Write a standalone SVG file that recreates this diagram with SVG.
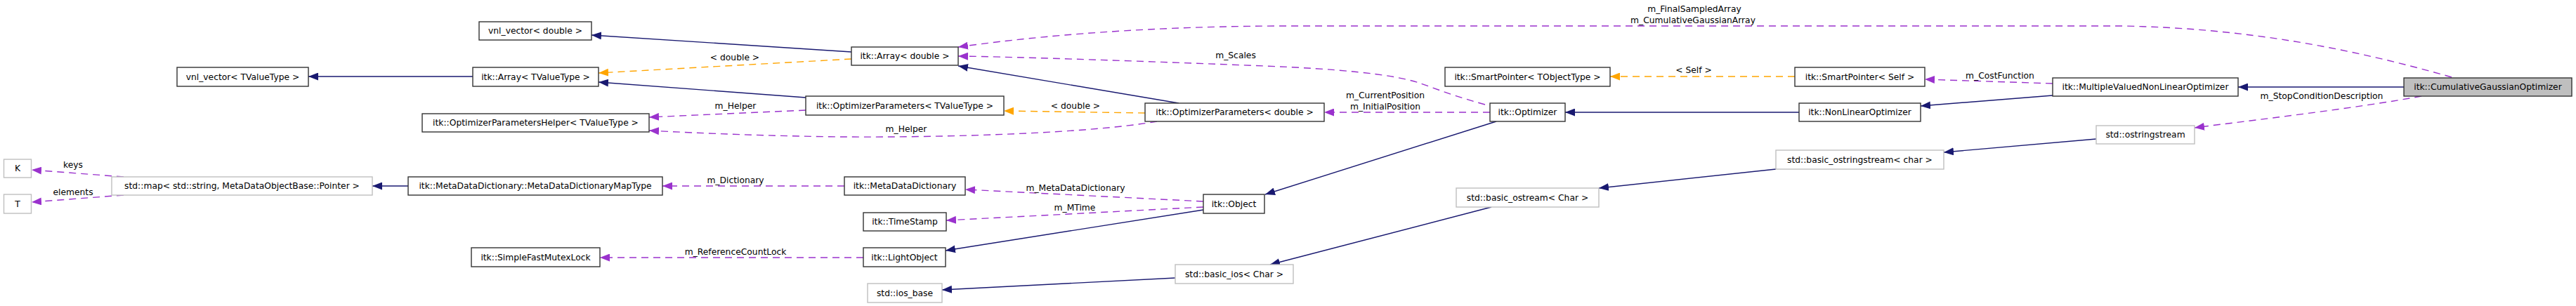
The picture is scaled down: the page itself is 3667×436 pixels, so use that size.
<svg xmlns="http://www.w3.org/2000/svg" width="3667" height="436" viewBox="0 0 3667 436">
<style>
.n rect{fill:#fff;stroke:#333;stroke-width:1.4}
.g rect{fill:#fff;stroke:#bfbfbf;stroke-width:1.4}
.c rect{fill:#bfbfbf;stroke:#333;stroke-width:1.4}
text{font-family:"DejaVu Sans","Liberation Sans",sans-serif;font-size:12.3px;fill:#000;text-anchor:middle}
.e{fill:none;stroke-width:1.4}
.s{stroke:#191970;marker-end:url(#aN)}
.d{stroke:#9a32cd;stroke-dasharray:10,7;marker-end:url(#aP)}
.o{stroke:#ffa500;stroke-dasharray:10,7;marker-end:url(#aO)}
</style>
<defs>
<marker id="aN" markerUnits="userSpaceOnUse" markerWidth="14" markerHeight="11" refX="14" refY="5.5" orient="auto"><path d="M0,0 L14,5.5 L0,11 Z" fill="#191970"/></marker>
<marker id="aP" markerUnits="userSpaceOnUse" markerWidth="14" markerHeight="11" refX="14" refY="5.5" orient="auto"><path d="M0,0 L14,5.5 L0,11 Z" fill="#9a32cd"/></marker>
<marker id="aO" markerUnits="userSpaceOnUse" markerWidth="14" markerHeight="11" refX="14" refY="5.5" orient="auto"><path d="M0,0 L14,5.5 L0,11 Z" fill="#ffa500"/></marker>
</defs>
<rect width="3667" height="436" fill="#fff"/>
<g id="edges">
<path class="e s" d="M673,109 L439,109"/>
<path class="e s" d="M1212,74 L842,50"/>
<path class="e o" d="M1212,84 L852,104"/>
<text x="1046" y="86">&lt; double &gt;</text>
<path class="e s" d="M1147,139 L852,117"/>
<path class="e d" d="M1147,157 L924,167"/>
<text x="1047" y="155">m_Helper</text>
<path class="e d" d="M1647,173 C1550,190 1350,196 1200,195 C1100,194 1000,190 924,186"/>
<text x="1290" y="188">m_Helper</text>
<path class="e s" d="M1678,147 L1364,94"/>
<path class="e o" d="M1630,161 L1429,158"/>
<text x="1531" y="155">&lt; double &gt;</text>
<path class="e d" d="M2114,149 C2070,137 2040,125 2020,118 C1980,105 1900,98 1800,94 C1650,88 1450,81 1364,80"/>
<text x="1759" y="83">m_Scales</text>
<path class="e d" d="M2121,160 L1885,160"/>
<text x="1972" y="140">m_CurrentPosition</text>
<text x="1972" y="156">m_InitialPosition</text>
<path class="e s" d="M2561,160 L2228,160"/>
<path class="e s" d="M2922,136 L2734,151"/>
<path class="e s" d="M3422,124 L3186,124"/>
<path class="e o" d="M2555,109 L2292,109"/>
<text x="2411" y="104">&lt; Self &gt;</text>
<path class="e d" d="M2922,119 L2740,113"/>
<text x="2847" y="112">m_CostFunction</text>
<path class="e d" d="M3490,110 C3350,70 3200,40 3020,37 L1820,37 C1600,38 1450,55 1364,67"/>
<text x="2412" y="17">m_FinalSampledArray</text>
<text x="2410" y="33">m_CumulativeGaussianArray</text>
<path class="e d" d="M3447,137 C3350,155 3200,172 3124,182"/>
<text x="3305" y="141">m_StopConditionDescription</text>
<path class="e s" d="M2984,198 L2767,217"/>
<path class="e s" d="M2528,241 L2276,268"/>
<path class="e s" d="M2123,295 L1808,377"/>
<path class="e s" d="M1673,396 L1341,413"/>
<path class="e s" d="M2130,173 L1801,277"/>
<path class="e d" d="M1713,287 L1374,270"/>
<text x="1531" y="272">m_MetaDataDictionary</text>
<path class="e d" d="M1713,295 L1347,314"/>
<text x="1530" y="300">m_MTime</text>
<path class="e s" d="M1713,299 L1346,357"/>
<path class="e d" d="M1229,367 L854,367"/>
<text x="1047" y="363">m_ReferenceCountLock</text>
<path class="e d" d="M1202,265 L943,265"/>
<text x="1047" y="261">m_Dictionary</text>
<path class="e s" d="M581,265 L530,265"/>
<path class="e d" d="M176,252 L45,242"/>
<text x="104" y="239">keys</text>
<path class="e d" d="M176,278 L45,288"/>
<text x="104" y="278">elements</text>
</g>
<g id="n_vnl_tvt" class="n"><rect x="252" y="96" width="187" height="27"/><text x="345.5" y="113.8">vnl_vector&lt; TValueType &gt;</text></g>
<g id="n_vnl_double" class="n"><rect x="682" y="31" width="160" height="26"/><text x="762" y="48.3">vnl_vector&lt; double &gt;</text></g>
<g id="n_array_tvt" class="n"><rect x="673" y="96" width="179" height="27"/><text x="762.5" y="113.8">itk::Array&lt; TValueType &gt;</text></g>
<g id="n_helper" class="n"><rect x="601" y="162" width="323" height="26"/><text x="762.5" y="179.3">itk::OptimizerParametersHelper&lt; TValueType &gt;</text></g>
<g id="n_k" class="g"><rect x="5.5" y="227" width="39" height="26"/><text x="25" y="244.3">K</text></g>
<g id="n_t" class="g"><rect x="5.5" y="277" width="39" height="27"/><text x="25" y="294.8">T</text></g>
<g id="n_map" class="g"><rect x="159" y="252" width="371" height="26"/><text x="344.5" y="269.3">std::map&lt; std::string, MetaDataObjectBase::Pointer &gt;</text></g>
<g id="n_maptype" class="n"><rect x="581" y="252" width="362" height="26"/><text x="762" y="269.3">itk::MetaDataDictionary::MetaDataDictionaryMapType</text></g>
<g id="n_mutex" class="n"><rect x="671" y="353" width="183" height="27"/><text x="762.5" y="370.8">itk::SimpleFastMutexLock</text></g>
<g id="n_optparams_tvt" class="n"><rect x="1147" y="137" width="282" height="27"/><text x="1288" y="154.8">itk::OptimizerParameters&lt; TValueType &gt;</text></g>
<g id="n_array_double" class="n"><rect x="1212" y="67" width="152" height="26"/><text x="1288" y="84.3">itk::Array&lt; double &gt;</text></g>
<g id="n_mdd" class="n"><rect x="1202" y="252" width="172" height="26"/><text x="1288" y="269.3">itk::MetaDataDictionary</text></g>
<g id="n_timestamp" class="n"><rect x="1229" y="303" width="118" height="26"/><text x="1288" y="320.3">itk::TimeStamp</text></g>
<g id="n_lightobject" class="n"><rect x="1229" y="353" width="117" height="27"/><text x="1287.5" y="370.8">itk::LightObject</text></g>
<g id="n_object" class="n"><rect x="1713" y="277" width="87" height="27"/><text x="1756.5" y="294.8">itk::Object</text></g>
<g id="n_iosbase" class="g"><rect x="1235" y="404" width="106" height="27"/><text x="1288" y="421.8">std::ios_base</text></g>
<g id="n_basicios" class="g"><rect x="1673" y="377" width="168" height="27"/><text x="1757" y="394.8">std::basic_ios&lt; Char &gt;</text></g>
<g id="n_optparams_double" class="n"><rect x="1630" y="147" width="255" height="26"/><text x="1757.5" y="164.3">itk::OptimizerParameters&lt; double &gt;</text></g>
<g id="n_smartptr_tot" class="n"><rect x="2057" y="96" width="235" height="27"/><text x="2174.5" y="113.8">itk::SmartPointer&lt; TObjectType &gt;</text></g>
<g id="n_optimizer" class="n"><rect x="2121" y="147" width="107" height="26"/><text x="2174.5" y="164.3">itk::Optimizer</text></g>
<g id="n_basicostream" class="g"><rect x="2073" y="268" width="203" height="27"/><text x="2174.5" y="285.8">std::basic_ostream&lt; Char &gt;</text></g>
<g id="n_smartptr_self" class="n"><rect x="2555" y="96" width="185" height="27"/><text x="2647.5" y="113.8">itk::SmartPointer&lt; Self &gt;</text></g>
<g id="n_nonlinear" class="n"><rect x="2561" y="147" width="173" height="26"/><text x="2647.5" y="164.3">itk::NonLinearOptimizer</text></g>
<g id="n_basicostringstream" class="g"><rect x="2528" y="214" width="239" height="27"/><text x="2647.5" y="231.8">std::basic_ostringstream&lt; char &gt;</text></g>
<g id="n_multiple" class="n"><rect x="2922" y="111" width="264" height="26"/><text x="3054" y="128.3">itk::MultipleValuedNonLinearOptimizer</text></g>
<g id="n_ostringstream" class="g"><rect x="2984" y="179" width="140" height="26"/><text x="3054" y="196.3">std::ostringstream</text></g>
<g id="n_cumulative" class="c"><rect x="3422" y="111" width="239" height="26"/><text x="3541.5" y="128.3">itk::CumulativeGaussianOptimizer</text></g>
</svg>
